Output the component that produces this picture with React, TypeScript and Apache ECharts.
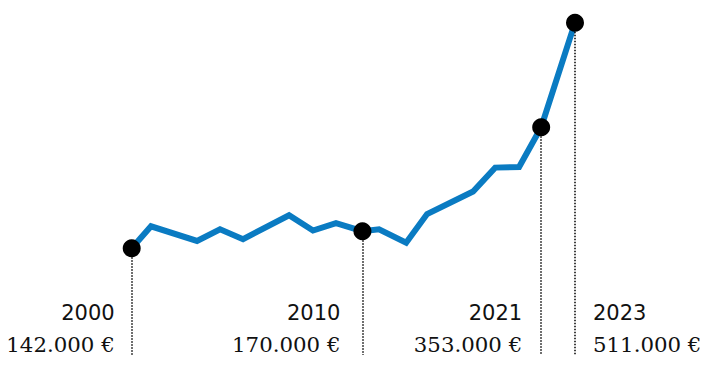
import React, { useEffect, useRef } from "react";
import * as echarts from "echarts";

// horizontal position of each vertex (in 23px "steps" from the 2000 point)
const steps = [0, 0.84, 2.84, 3.84, 4.84, 6.84, 7.88, 8.88, 10.03, 10.75, 11.93, 12.84, 14.84, 15.8, 16.84, 17.8, 19.27];
// price at each vertex (€)
const prices = [142000, 178000, 154000, 173000, 157000, 196000, 171000, 183000, 170000, 173000, 151000, 198000, 235000, 274000, 275000, 340000, 511000];

// highlighted points
const markedIdx = [0, 8, 15, 16];
const yearLabels = ["2000", "2010", "2021", "2023"];
const priceLabels = ["142.000 €", "170.000 €", "353.000 €", "511.000 €"];
const labelSide = ["left", "left", "left", "right"];
const labelGap = [17, 22, 19, 18];

const Y_MIN = -32500;
const Y_MAX = 511000;

export default function App() {
  const ref = useRef<HTMLDivElement>(null);
  useEffect(() => {
    if (!ref.current) return;
    const chart = echarts.init(ref.current, null, { renderer: "svg" });
    const lineData = steps.map((s, i) => [s, prices[i]]);
    const dots = markedIdx.map((i) => [steps[i], prices[i]]);
    chart.setOption({
      animation: false,
      grid: { left: 131.7, right: 137, top: 22.7, bottom: 14 },
      xAxis: { type: "value", min: 0, max: steps[steps.length - 1], show: false },
      yAxis: { type: "value", min: Y_MIN, max: Y_MAX, show: false },
      series: [
        {
          type: "line",
          data: lineData,
          clip: false,
          showSymbol: false,
          symbol: "none",
          z: 2,
          lineStyle: { color: "#0a7bc2", width: 6, join: "miter" },
          markLine: {
            silent: true,
            symbol: ["none", "none"],
            animation: false,
            label: { show: false },
            lineStyle: { color: "#000", width: 1.5, type: [1.5, 1.5] },
            data: markedIdx.map((i) => [
              { coord: [steps[i], prices[i]] },
              { coord: [steps[i], Y_MIN] },
            ]),
          },
        },
        {
          type: "scatter",
          data: dots,
          symbol: "circle",
          symbolSize: 18,
          clip: false,
          z: 3,
          itemStyle: { color: "#000", opacity: 1 },
        },
      ],
    });
    const graphics: any[] = [];
    markedIdx.forEach((idx, k) => {
      const p = chart.convertToPixel({ xAxisIndex: 0, yAxisIndex: 0 }, [steps[idx], prices[idx]]) as number[];
      const right = labelSide[k] === "left";
      const x = right ? p[0] - labelGap[k] : p[0] + labelGap[k];
      const align = right ? "right" : "left";
      graphics.push({
        type: "text",
        x,
        y: 312.5,
        style: {
          text: yearLabels[k],
          fill: "#111",
          font: '21px "DejaVu Sans"',
          align,
          verticalAlign: "middle",
        },
      });
      graphics.push({
        type: "text",
        x,
        y: 344.5,
        style: {
          text: priceLabels[k],
          fill: "#111",
          font: '21.3px "DejaVu Serif"',
          align,
          verticalAlign: "middle",
        },
      });
    });
    chart.setOption({ graphic: graphics });
    return () => chart.dispose();
  }, []);
  return (
    <div
      ref={ref}
      style={{ position: "fixed", left: 0, top: 0, width: 712, height: 369, background: "#fff" }}
    />
  );
}
